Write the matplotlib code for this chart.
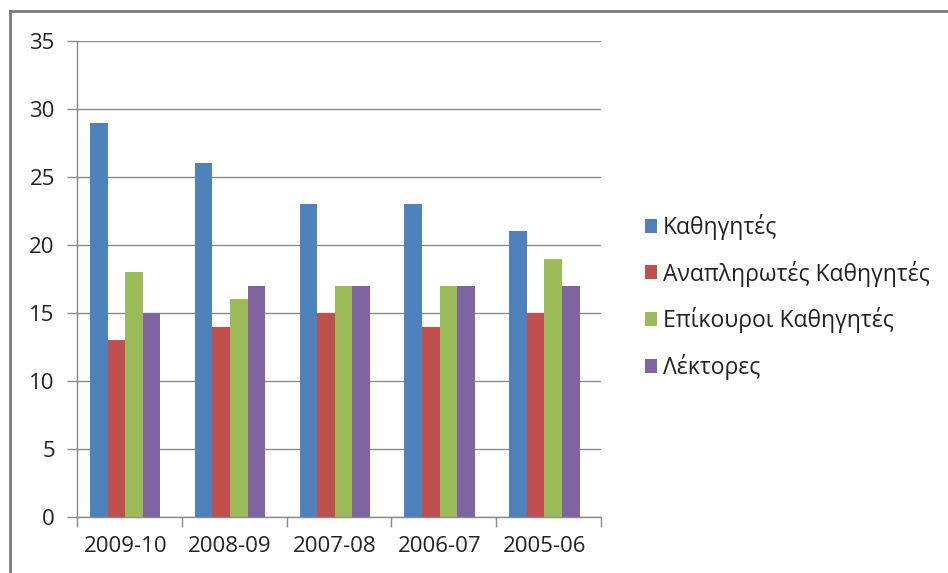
import matplotlib
matplotlib.use('Agg')
import matplotlib.pyplot as plt
from matplotlib.lines import Line2D

plt.rcParams['font.family'] = ['Open Sans', 'DejaVu Sans']

# data
years = ['2009-10', '2008-09', '2007-08', '2006-07', '2005-06']
series_names = ['Καθηγητές', 'Αναπληρωτές Καθηγητές', 'Επίκουροι Καθηγητές', 'Λέκτορες']
kathigites = [29, 26, 23, 23, 21]
anaplirotes = [13, 14, 15, 14, 15]
epikouroi = [18, 16, 17, 17, 19]
lektores = [15, 17, 17, 17, 17]
colors = ['#4F81BD', '#C0504D', '#9BBB59', '#8064A2']

series = [kathigites, anaplirotes, epikouroi, lektores]

fig = plt.figure(figsize=(9.48, 5.73), dpi=100)
ax = fig.add_axes([0.0812, 0.0977, 0.6340 - 0.0812, 0.9284 - 0.0977])

w = 0.168
shift = -0.04  # groups sit a bit left of the category centre in the screenshot
x = list(range(len(years)))
for k, vals in enumerate(series):
    offs = (k - 1.5) * w + shift
    ax.bar([i + offs for i in x], vals, width=w, color=colors[k],
           label=series_names[k], zorder=3)

ax.set_xlim(-0.5, len(years) - 0.5)
ax.set_ylim(0, 35)
ax.set_yticks(range(0, 36, 5))
ax.yaxis.grid(True, color='#8a8a8a', linewidth=1.0, zorder=0)
ax.set_axisbelow(True)

# category ticks sit between groups, labels centered under groups
ax.set_xticks([i - 0.5 for i in range(len(years) + 1)])
ax.set_xticklabels([])
ax.set_xticks([i + shift for i in x], minor=True)
ax.set_xticklabels(years, minor=True)
ax.tick_params(axis='x', which='minor', length=0, pad=14, labelsize=16, colors='#222222')
ax.tick_params(axis='x', which='major', length=7, width=1, color='#8a8a8a')
ax.tick_params(axis='y', length=7, width=1, color='#8a8a8a', pad=9, labelsize=16, labelcolor='#222222')

for s in ['top', 'right']:
    ax.spines[s].set_visible(False)
for s in ['left', 'bottom']:
    ax.spines[s].set_color('#8a8a8a')
    ax.spines[s].set_linewidth(1)

leg = fig.legend(loc='center left', bbox_to_anchor=(0.680, 0.482), frameon=False,
                 fontsize=16.5, handlelength=0.55, handleheight=0.55, handletextpad=0.25,
                 labelspacing=0.9, borderpad=0, borderaxespad=0)
for t in leg.get_texts():
    t.set_color('#222222')

# chart border as in the screenshot
fig.add_artist(Line2D([9.5 / 948, 1], [1 - 10.5 / 573] * 2, color='#7a7a7a', linewidth=2, transform=fig.transFigure))
fig.add_artist(Line2D([9.5 / 948] * 2, [0, 1 - 10.5 / 573], color='#7a7a7a', linewidth=2, transform=fig.transFigure))

fig.savefig('out.png', dpi=100, facecolor='white')
